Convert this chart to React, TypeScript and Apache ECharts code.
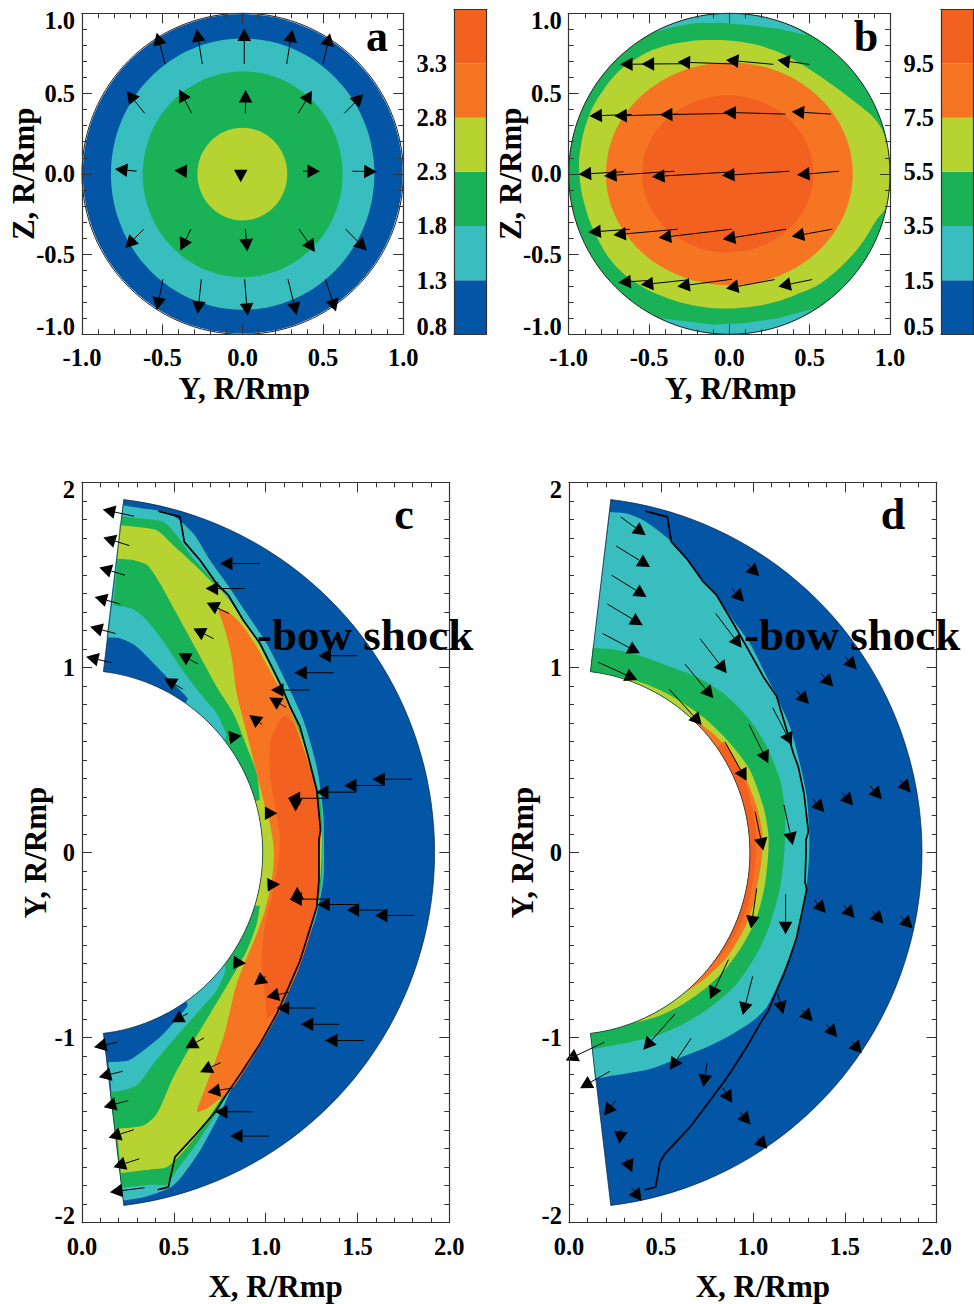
import React, { useEffect, useRef } from "react";
import * as echarts from "echarts";

const BLUE = "#0355A5", TEAL = "#38BEBE", GREEN = "#19B257", YELLOW = "#B7D332", ORANGE = "#F67522", RED = "#F36121";
const FONT = "Liberation Serif";

const colorbarColors = [BLUE, TEAL, GREEN, YELLOW, ORANGE, RED];
const colorbarStepsA = [1, 1, 1, 1, 1, 1];
const colorbarStepsB = [1, 1, 1, 1, 1, 1];
const colorbarLabelsA = ["0.8", "1.3", "1.8", "2.3", "2.8", "3.3", ""];
const colorbarLabelsB = ["0.5", "1.5", "3.5", "5.5", "7.5", "9.5", ""];

// [cx, cy, rx, ry] of the nearly elliptical contours
const contoursA = [
  { color: BLUE, e: [0, 0, 0.995, 0.995] },
  { color: TEAL, e: [0, -0.002, 0.82, 0.845] },
  { color: GREEN, e: [0, -0.003, 0.622, 0.641] },
  { color: YELLOW, e: [-0.002, -0.002, 0.28, 0.289] },
];
const unitCircle = [0, 0, 1, 1];

// tail x, tail y, tip x, tip y
const arrowsA = [
  [-0.483, 0.684, -0.535, 0.879], [-0.251, 0.684, -0.286, 0.901], [0.01, 0.684, 0.01, 0.906], [0.274, 0.684, 0.309, 0.899], [0.5, 0.684, 0.544, 0.875],
  [-0.61, 0.377, -0.722, 0.516], [-0.317, 0.377, -0.396, 0.526], [0.017, 0.377, 0.019, 0.522], [0.346, 0.377, 0.432, 0.518], [0.633, 0.377, 0.751, 0.497],
  [-0.66, 0.016, -0.795, 0.03], [-0.344, 0.016, -0.425, 0.02], [-0.012, 0.02, -0.012, -0.053], [0.376, 0.016, 0.481, 0.016], [0.683, 0.016, 0.834, 0.013],
  [-0.616, -0.345, -0.73, -0.462], [-0.322, -0.345, -0.388, -0.478], [0.017, -0.345, 0.029, -0.484], [0.351, -0.345, 0.45, -0.487], [0.641, -0.345, 0.772, -0.478],
  [-0.496, -0.657, -0.535, -0.848], [-0.257, -0.657, -0.28, -0.872], [0.012, -0.657, 0.031, -0.885], [0.282, -0.657, 0.336, -0.879], [0.515, -0.657, 0.581, -0.858],
];

const capTopB = [
  [-0.473, 0.881], [-0.33, 0.92], [-0.2, 0.94], [-0.04, 0.94], [0.13, 0.925], [0.3, 0.905], [0.481, 0.864],
  [0.4, 0.917], [0.3, 0.954], [0.2, 0.98], [0.1, 0.995], [0, 1], [-0.1, 0.995], [-0.2, 0.98], [-0.3, 0.954], [-0.4, 0.917],
];
const capBottomB = [
  [-0.432, -0.9], [-0.3, -0.915], [-0.1, -0.94], [0.1, -0.93], [0.3, -0.9], [0.53, -0.84],
  [0.4, -0.917], [0.3, -0.954], [0.2, -0.98], [0.1, -0.995], [0, -1], [-0.1, -0.995], [-0.2, -0.98], [-0.3, -0.954],
];
const yellowB = [
  [-0.934, 0.003], [-0.925, 0.169], [-0.867, 0.377], [-0.784, 0.522], [-0.68, 0.646], [-0.577, 0.719], [-0.452, 0.781],
  [-0.266, 0.823], [-0.079, 0.833], [0.108, 0.816], [0.274, 0.771], [0.44, 0.688], [0.585, 0.594], [0.793, 0.439],
  [0.927, 0.314], [0.983, 0.179], [0.995, 0.1], [1, 0], [0.995, -0.1], [0.983, -0.194],
  [0.917, -0.287], [0.793, -0.474], [0.585, -0.671], [0.44, -0.743], [0.274, -0.802], [0.108, -0.831], [-0.058, -0.839],
  [-0.245, -0.816], [-0.411, -0.765], [-0.577, -0.682], [-0.722, -0.557], [-0.826, -0.391], [-0.898, -0.204],
];
const orangeEllipseB = [0, 0, 0.768, 0.694];
const redEllipseB = [-0.01, -0.001, 0.533, 0.489];

const arrowsB = [
  [0.498, 0.682, 0.299, 0.709], [0.274, 0.682, -0.021, 0.709], [0.041, 0.684, -0.322, 0.696], [-0.245, 0.686, -0.546, 0.684], [-0.494, 0.684, -0.68, 0.682],
  [0.633, 0.372, 0.388, 0.387], [0.349, 0.372, -0.037, 0.383], [0.035, 0.377, -0.432, 0.368], [-0.317, 0.372, -0.716, 0.36], [-0.608, 0.37, -0.871, 0.36],
  [0.683, 0.016, 0.421, -0.007], [0.373, 0.016, -0.046, -0.011], [0.035, 0.013, -0.481, -0.018], [-0.342, 0.016, -0.78, -0.013], [-0.658, 0.013, -0.938, -0.003],
  [0.641, -0.345, 0.388, -0.391], [0.353, -0.345, -0.041, -0.408], [0.015, -0.345, -0.44, -0.399], [-0.322, -0.345, -0.722, -0.381], [-0.618, -0.345, -0.878, -0.364],
  [0.515, -0.659, 0.305, -0.702], [0.282, -0.659, -0.021, -0.715], [0.015, -0.657, -0.324, -0.702], [-0.259, -0.661, -0.552, -0.692], [-0.51, -0.665, -0.691, -0.677],
];

const shellOuter = 1.92;
const shellInner = 0.984;
const shellAngle = 83.2;

const tealOuterC = [
  [0.221, 1.876], [0.334, 1.858], [0.479, 1.831], [0.606, 1.723], [0.697, 1.579], [0.788, 1.453], [0.897, 1.291], [1.005, 1.13],
  [1.114, 0.914], [1.205, 0.716], [1.278, 0.464], [1.314, 0.212], [1.318, 0], [1.314, -0.153], [1.278, -0.333], [1.223, -0.495],
  [1.151, -0.674], [1.06, -0.854], [0.969, -1.016], [0.861, -1.178], [0.751, -1.412], [0.643, -1.61], [0.534, -1.763], [0.479, -1.811],
  [0.352, -1.858], [0.225, -1.88], [0.143, -1.133], [0.252, -1.124], [0.334, -1.07], [0.443, -0.98], [0.57, -0.836], [0.575, -0.818],
];
const tealPocketC = [[0.577, 0.833], [0.497, 0.914], [0.407, 1.004], [0.298, 1.112], [0.207, 1.157], [0.134, 1.162]];

const greenOuterC = [
  [0.218, 1.817], [0.316, 1.804], [0.443, 1.786], [0.515, 1.714], [0.606, 1.588], [0.715, 1.471], [0.806, 1.345], [0.933, 1.165],
  [1.042, 0.968], [1.151, 0.752], [1.241, 0.5], [1.296, 0.284], [1.31, 0.122], [1.31, 0], [1.305, -0.153], [1.278, -0.297],
  [1.232, -0.459], [1.151, -0.656], [1.06, -0.836], [0.969, -1.016], [0.869, -1.16], [0.751, -1.376], [0.624, -1.574], [0.515, -1.718],
  [0.461, -1.799], [0.37, -1.795], [0.216, -1.811], [0.152, -1.295], [0.234, -1.282], [0.307, -1.25], [0.388, -1.142], [0.479, -1.034],
  [0.606, -0.89], [0.733, -0.746], [0.782, -0.635],
];
const greenInnerC = [[0.788, 0.635], [0.733, 0.752], [0.643, 0.86], [0.534, 1.004], [0.425, 1.165], [0.334, 1.273], [0.27, 1.318], [0.171, 1.336]];

const yellowOuterC = [
  [0.203, 1.768], [0.298, 1.759], [0.407, 1.741], [0.497, 1.66], [0.606, 1.561], [0.715, 1.453], [0.788, 1.381], [0.878, 1.255],
  [0.969, 1.112], [1.06, 0.932], [1.151, 0.734], [1.223, 0.536], [1.278, 0.302], [1.305, 0.122], [1.305, 0], [1.296, -0.153],
  [1.269, -0.297], [1.223, -0.477], [1.142, -0.665], [1.051, -0.836], [0.96, -1.007], [0.869, -1.151], [0.751, -1.34], [0.624, -1.529],
  [0.515, -1.655], [0.461, -1.7], [0.37, -1.712], [0.212, -1.732], [0.189, -1.493], [0.334, -1.475], [0.407, -1.412], [0.497, -1.214],
  [0.588, -1.052], [0.697, -0.872], [0.806, -0.692], [0.897, -0.531], [0.951, -0.387], [0.969, -0.288],
];
const yellowInnerC = [
  [0.969, 0.284], [0.951, 0.428], [0.897, 0.572], [0.824, 0.752], [0.733, 0.896], [0.624, 1.094], [0.515, 1.291], [0.425, 1.453],
  [0.356, 1.552], [0.28, 1.579], [0.192, 1.585],
];

const orangeC = [
  [0.739, 1.318], [0.797, 1.3], [0.878, 1.219], [0.951, 1.112], [1.042, 0.95], [1.133, 0.77], [1.205, 0.572], [1.269, 0.356],
  [1.299, 0.14], [1.296, 0], [1.292, -0.153], [1.278, -0.297], [1.223, -0.495], [1.151, -0.692], [1.078, -0.854], [0.987, -1.016],
  [0.897, -1.16], [0.824, -1.268], [0.751, -1.331], [0.679, -1.385], [0.628, -1.403], [0.628, -1.385], [0.679, -1.25], [0.733, -1.106],
  [0.77, -1], [0.806, -0.854], [0.842, -0.71], [0.897, -0.567], [0.951, -0.441], [0.996, -0.315], [1.033, -0.153], [1.045, 0],
  [1.027, 0.14], [0.987, 0.284], [0.942, 0.464], [0.897, 0.644], [0.842, 0.86], [0.815, 1.058], [0.779, 1.201],
];
const redC = [
  [1.105, 0.743], [1.151, 0.698], [1.214, 0.536], [1.269, 0.356], [1.299, 0.14], [1.292, 0], [1.292, -0.135], [1.278, -0.288],
  [1.232, -0.477], [1.169, -0.656], [1.096, -0.8], [1.042, -0.872], [1.006, -0.899], [0.996, -0.764], [0.978, -0.603], [0.996, -0.387],
  [1.033, -0.243], [1.06, -0.099], [1.075, 0], [1.075, 0.104], [1.051, 0.248], [1.027, 0.392], [1.02, 0.536], [1.033, 0.626], [1.078, 0.716],
];
const shockC = [
  [0.416, 1.844], [0.534, 1.813], [0.557, 1.678], [0.643, 1.579], [0.733, 1.453], [0.797, 1.39], [0.878, 1.255], [0.969, 1.13],
  [1.042, 0.986], [1.087, 0.896], [1.133, 0.788], [1.187, 0.68], [1.232, 0.518], [1.278, 0.338], [1.299, 0.122], [1.29, 0.068],
  [1.29, 0], [1.29, -0.153], [1.278, -0.297], [1.232, -0.441], [1.187, -0.585], [1.133, -0.71], [1.06, -0.872], [0.969, -1.034],
  [0.869, -1.187], [0.788, -1.304], [0.724, -1.403], [0.606, -1.538], [0.506, -1.646], [0.47, -1.808], [0.412, -1.822],
];
const arrowsC = [
  [0.283, 1.817, 0.113, 1.853], [0.258, 1.658, 0.116, 1.702], [0.234, 1.498, 0.094, 1.54], [0.209, 1.342, 0.069, 1.381], [0.183, 1.183, 0.044, 1.219], [0.162, 1.025, 0.022, 1.058],
  [0.969, 1.561, 0.751, 1.561], [0.884, 1.426, 0.673, 1.426], [0.8, 1.291, 0.679, 1.349], [0.717, 1.155, 0.606, 1.21], [0.632, 1.018, 0.525, 1.076], [0.548, 0.883, 0.448, 0.941],
  [1.501, 1.063, 1.287, 1.063], [1.372, 0.971, 1.156, 0.971], [1.241, 0.878, 1.029, 0.878], [1.111, 0.784, 1.02, 0.838], [0.98, 0.692, 0.911, 0.743], [0.806, 0.622, 0.869, 0.631],
  [1.797, 0.396, 1.581, 0.396], [1.644, 0.362, 1.427, 0.362], [1.492, 0.326, 1.274, 0.326], [1.338, 0.293, 1.12, 0.293], [1.163, 0.293, 1.163, 0.221], [0.996, 0.212, 1.064, 0.212],
  [1.809, -0.34, 1.595, -0.34], [1.65, -0.311, 1.441, -0.311], [1.496, -0.281, 1.281, -0.281], [1.341, -0.252, 1.129, -0.252], [1.172, -0.252, 1.172, -0.185], [1.015, -0.174, 1.078, -0.171],
  [1.269, -0.84, 1.06, -0.84], [1.401, -0.928, 1.191, -0.928], [1.535, -1.016, 1.323, -1.016], [1.125, -0.755, 1.005, -0.782], [1.0, -0.669, 0.937, -0.716], [0.833, -0.595, 0.893, -0.599],
  [0.929, -1.401, 0.724, -1.401], [1.018, -1.532, 0.806, -1.532], [0.82, -1.272, 0.684, -1.295], [0.755, -1.135, 0.643, -1.187], [0.664, -1.002, 0.563, -1.058], [0.577, -0.869, 0.488, -0.917],
  [0.192, -1.025, 0.065, -1.052], [0.221, -1.182, 0.091, -1.214], [0.252, -1.34, 0.118, -1.376], [0.281, -1.498, 0.145, -1.541], [0.312, -1.655, 0.171, -1.7], [0.341, -1.811, 0.152, -1.835],
];

const tealD = [
  [0.223, 1.84], [0.314, 1.831], [0.404, 1.795], [0.495, 1.732], [0.558, 1.678], [0.622, 1.606], [0.713, 1.489], [0.803, 1.39],
  [0.894, 1.255], [0.984, 1.13], [1.057, 0.986], [1.13, 0.842], [1.202, 0.68], [1.256, 0.482], [1.293, 0.302], [1.307, 0.122],
  [1.307, 0], [1.296, -0.153], [1.275, -0.297], [1.238, -0.459], [1.184, -0.603], [1.13, -0.728], [1.075, -0.836], [1.003, -0.908],
  [0.876, -0.989], [0.749, -1.052], [0.586, -1.115], [0.441, -1.169], [0.241, -1.205], [0.141, -1.223],
];
const greenD = [
  [0.129, 1.106], [0.259, 1.094], [0.404, 1.058], [0.549, 1.004], [0.694, 0.95], [0.839, 0.86], [0.984, 0.716], [1.075, 0.572],
  [1.148, 0.392], [1.175, 0.212], [1.171, 0], [1.148, -0.189], [1.093, -0.387], [1.021, -0.549], [0.912, -0.71], [0.767, -0.836],
  [0.622, -0.926], [0.477, -0.989], [0.332, -1.025], [0.132, -1.061],
];
const yellowD = [
  [0.35, 0.932], [0.495, 0.878], [0.622, 0.806], [0.749, 0.716], [0.876, 0.59], [0.984, 0.446], [1.057, 0.248], [1.084, 0.104],
  [1.084, 0], [1.066, -0.171], [1.021, -0.351], [0.948, -0.495], [0.858, -0.621], [0.749, -0.728], [0.622, -0.818], [0.495, -0.881], [0.35, -0.923],
];
const orangeD = [
  [0.703, 0.705], [0.803, 0.626], [0.894, 0.518], [0.966, 0.392], [1.021, 0.248], [1.052, 0.104], [1.052, 0], [1.039, -0.099],
  [1.003, -0.279], [0.948, -0.423], [0.858, -0.567], [0.749, -0.674], [0.649, -0.746],
];
const redD = [
  [0.839, 0.599], [0.876, 0.554], [0.948, 0.41], [0.994, 0.248], [1.017, 0.104], [1.017, 0], [1.006, -0.117], [0.975, -0.279],
  [0.921, -0.414], [0.839, -0.54], [0.767, -0.621],
];
const shockD = [
  [0.415, 1.844], [0.535, 1.813], [0.557, 1.678], [0.64, 1.588], [0.731, 1.462], [0.803, 1.39], [0.894, 1.237], [0.966, 1.112],
  [1.057, 0.95], [1.13, 0.842], [1.184, 0.662], [1.22, 0.536], [1.247, 0.464], [1.278, 0.32], [1.302, 0.113], [1.289, 0.068],
  [1.289, 0], [1.284, -0.162], [1.293, -0.198], [1.265, -0.333], [1.238, -0.459], [1.202, -0.567], [1.166, -0.665], [1.13, -0.746],
  [1.084, -0.854], [1.039, -0.926], [0.966, -1.052], [0.885, -1.178], [0.848, -1.232], [0.767, -1.34], [0.658, -1.484], [0.522, -1.628],
  [0.495, -1.673], [0.471, -1.808], [0.41, -1.822],
];
const arrowsD = [
  [0.281, 1.813, 0.417, 1.714], [0.256, 1.656, 0.441, 1.543], [0.232, 1.498, 0.422, 1.381], [0.209, 1.342, 0.401, 1.228], [0.183, 1.183, 0.386, 1.076], [0.16, 1.027, 0.372, 0.932],
  [0.966, 1.561, 1.035, 1.493], [0.885, 1.426, 0.952, 1.354], [0.798, 1.291, 0.939, 1.106], [0.713, 1.155, 0.858, 0.968], [0.631, 1.018, 0.785, 0.833], [0.546, 0.881, 0.722, 0.689],
  [1.108, 0.782, 1.213, 0.581], [0.979, 0.692, 1.084, 0.482], [0.848, 0.599, 0.966, 0.387], [1.012, 0.221, 1.057, 0.011], [1.169, 0.257, 1.217, 0.041],
  [1.501, 1.058, 1.565, 0.989], [1.369, 0.968, 1.438, 0.896], [1.238, 0.874, 1.305, 0.802],
  [1.797, 0.396, 1.858, 0.324], [1.637, 0.36, 1.702, 0.288], [1.483, 0.326, 1.546, 0.254], [1.325, 0.29, 1.389, 0.218],
  [1.334, -0.257, 1.398, -0.327], [1.492, -0.284, 1.554, -0.354], [1.646, -0.315, 1.71, -0.383], [1.804, -0.345, 1.869, -0.41],
  [1.178, -0.225, 1.178, -0.441], [1.021, -0.194, 0.99, -0.41], [0.867, -0.579, 0.767, -0.791], [0.999, -0.669, 0.945, -0.878],
  [0.577, -0.872, 0.404, -1.065], [0.664, -1.004, 0.549, -1.174], [0.751, -1.137, 0.731, -1.268],
  [0.192, -1.025, -0.018, -1.124], [0.223, -1.182, 0.06, -1.273], [0.254, -1.34, 0.19, -1.421], [0.283, -1.498, 0.274, -1.574], [0.312, -1.655, 0.344, -1.727], [0.341, -1.811, 0.395, -1.883],
  [1.135, -0.764, 1.166, -0.872], [1.269, -0.851, 1.325, -0.912], [1.401, -0.93, 1.459, -0.998], [1.537, -1.02, 1.592, -1.085],
  [0.836, -1.272, 0.888, -1.353], [0.93, -1.403, 0.988, -1.469], [1.021, -1.538, 1.079, -1.601],
];

function arc(r: number, a0: number, a1: number) {
  const n = Math.max(2, Math.ceil(Math.abs(a1 - a0) / 2));
  const out: number[][] = [];
  for (let i = 0; i <= n; i++) {
    const t = ((a0 + ((a1 - a0) * i) / n) * Math.PI) / 180;
    out.push([r * Math.cos(t), r * Math.sin(t)]);
  }
  return out;
}

// Doubling a vertex where the outline turns sharply keeps that corner from being rounded by the smoothing.
function keepCorners(pts: number[][]) {
  const out: number[][] = [];
  const n = pts.length;
  pts.forEach((p, i) => {
    const a = pts[(i - 1 + n) % n], b = pts[(i + 1) % n];
    const t0 = Math.atan2(p[1] - a[1], p[0] - a[0]);
    const t1 = Math.atan2(b[1] - p[1], b[0] - p[0]);
    let d = Math.abs(t1 - t0);
    if (d > Math.PI) d = 2 * Math.PI - d;
    out.push(p);
    if (d > 0.7) out.push([p[0], p[1]]);
  });
  return out;
}

const TICK = "#333";

function makeOption() {
  const grid: any[] = [];
  const xAxis: any[] = [];
  const yAxis: any[] = [];
  const series: any[] = [];

  const baseAxis = (extra: any) => ({
    type: "value",
    z: 10,
    splitLine: { show: false },
    axisLine: { show: true, onZero: false, lineStyle: { color: TICK, width: 1.2 } },
    ...extra,
  });
  const labelStyle = { color: "#000", fontFamily: FONT, fontWeight: "bold", fontSize: 24.5, lineHeight: 15 };
  const nameStyle = { color: "#000", fontFamily: FONT, fontWeight: "bold", fontSize: 31 };

  function panel(rect: number[], xr: number[], yr: number[], xName: string, yName: string, yFmt: (v: number) => string, yNameGap: number, xNameShift: number) {
    const g = grid.length;
    grid.push({ left: rect[0], top: rect[1], width: rect[2], height: rect[3], outerBoundsMode: "none" });
    const ticks = (split: number) => ({
      axisTick: { show: true, inside: true, length: 10, lineStyle: { color: TICK, width: 1 } },
      minorTick: { show: true, splitNumber: split, length: 5, lineStyle: { color: TICK, width: 1 } },
    });
    const xi = xAxis.length;
    const xc = { gridIndex: g, min: xr[0], max: xr[1], interval: xr[2], ...ticks(xr[3]) };
    xAxis.push(baseAxis({
      ...xc, position: "bottom", name: xName, nameLocation: "middle", nameMoveOverlap: false, nameGap: rect[3] > 400 ? 48 : 39,
      nameTextStyle: { ...nameStyle, padding: [0, 0, 0, xNameShift * 2] },
      axisLabel: { ...labelStyle, margin: 16, formatter: (v: number) => v.toFixed(1) },
    }));
    xAxis.push(baseAxis({ ...xc, position: "top", axisLabel: { show: false } }));
    const yi = yAxis.length;
    const yc = { gridIndex: g, min: yr[0], max: yr[1], interval: yr[2], ...ticks(yr[3]) };
    yAxis.push(baseAxis({
      ...yc, position: "left", name: yName, nameLocation: "middle", nameMoveOverlap: false, nameGap: yNameGap, nameTextStyle: nameStyle,
      axisLabel: { ...labelStyle, margin: 7, formatter: yFmt, verticalAlignMaxLabel: "top", verticalAlignMinLabel: "bottom" },
    }));
    yAxis.push(baseAxis({ ...yc, position: "right", axisLabel: { show: false } }));
    return { xi, yi };
  }

  function colorbar(rect: number[], steps: number[], labels: string[]) {
    const g = grid.length;
    grid.push({ left: rect[0], top: rect[1], width: rect[2], height: rect[3], outerBoundsMode: "none" });
    const xi = xAxis.length;
    const cat = { type: "category", gridIndex: g, data: [""], axisTick: { show: false }, axisLabel: { show: false }, z: 10,
      axisLine: { show: true, onZero: false, lineStyle: { color: TICK, width: 1.2 } } };
    xAxis.push({ ...cat, position: "bottom" }, { ...cat, position: "top" });
    const yi = yAxis.length;
    const yc = { gridIndex: g, min: 0, max: labels.length - 1, interval: 1, axisTick: { show: false } };
    yAxis.push(baseAxis({ ...yc, position: "left", axisLabel: { ...labelStyle, margin: 7, formatter: (v: number) => labels[v] ?? "", verticalAlignMinLabel: "bottom" } }));
    yAxis.push(baseAxis({ ...yc, position: "right", axisLabel: { show: false } }));
    steps.forEach((s, i) => series.push({
      type: "bar", xAxisIndex: xi, yAxisIndex: yi, stack: "cb" + g, barWidth: "100%", data: [s],
      itemStyle: { color: colorbarColors[i] }, silent: true,
    }));
  }

  const polygon = (ax: any, pts: number[][], color: string, stroke?: string, smooth?: number) => series.push({
    type: "custom", xAxisIndex: ax.xi, yAxisIndex: ax.yi, data: [[0, 0]], silent: true, clip: false,
    renderItem: (_: any, api: any) => ({
      type: "polygon",
      shape: { points: (smooth ? keepCorners(pts) : pts).map((p) => api.coord(p)), smooth: smooth || 0 },
      style: stroke ? { fill: color, stroke, lineWidth: 0.7 } : { fill: color },
    }),
  });
  const ellipse = (ax: any, e: number[], color: string, stroke?: string) => series.push({
    type: "custom", xAxisIndex: ax.xi, yAxisIndex: ax.yi, data: [e], silent: true, clip: false,
    renderItem: (_: any, api: any) => {
      const c = api.coord([api.value(0), api.value(1)]);
      const s = api.size([api.value(2), api.value(3)]);
      return {
        type: "ellipse",
        shape: { cx: c[0], cy: c[1], rx: s[0], ry: s[1] },
        style: stroke ? { fill: "none", stroke, lineWidth: 1 } : { fill: color },
      };
    },
  });
  const arrows = (ax: any, rows: number[][]) => series.push({
    type: "custom", xAxisIndex: ax.xi, yAxisIndex: ax.yi, data: rows, silent: true, clip: false,
    encode: { x: [0, 2], y: [1, 3] },
    renderItem: (_: any, api: any) => {
      const a = api.coord([api.value(0), api.value(1)]);
      const b = api.coord([api.value(2), api.value(3)]);
      const L = Math.hypot(b[0] - a[0], b[1] - a[1]) || 1;
      const ux = (b[0] - a[0]) / L, uy = (b[1] - a[1]) / L;
      const hl = 12.5, hw = 6.8;
      const bx = b[0] - ux * hl, by = b[1] - uy * hl;
      return {
        type: "group",
        children: [
          { type: "line", shape: { x1: a[0], y1: a[1], x2: bx, y2: by }, style: { stroke: "#000", lineWidth: 1 } },
          { type: "polygon", shape: { points: [[b[0], b[1]], [bx - uy * hw, by + ux * hw], [bx + uy * hw, by - ux * hw]] }, style: { fill: "#000" } },
        ],
      };
    },
  });
  const shockLine = (ax: any, pts: number[][]) => series.push({
    type: "line", xAxisIndex: ax.xi, yAxisIndex: ax.yi, data: pts, showSymbol: false, silent: true, clip: false,
    lineStyle: { color: "#000", width: 1.7 },
  });

  const fmt1 = (v: number) => v.toFixed(1);
  const fmt0 = (v: number) => v.toFixed(0);
  const SM = 0.25;

  // Panel a
  const a = panel([82, 13.3, 321.3, 321], [-1, 1, 0.5, 5], [-1, 1, 0.5, 5], "Y, R/Rmp", "Z, R/Rmp", fmt1, 43, 1.5);
  contoursA.forEach((c) => ellipse(a, c.e, c.color));
  ellipse(a, unitCircle, "none", "#222");
  arrows(a, arrowsA);
  colorbar([454, 9.3, 32, 325], colorbarStepsA, colorbarLabelsA);

  // Panel b
  const b = panel([568.7, 13.3, 321.3, 321], [-1, 1, 0.5, 5], [-1, 1, 0.5, 5], "Y, R/Rmp", "Z, R/Rmp", fmt1, 43, 1.5);
  ellipse(b, unitCircle, GREEN);
  polygon(b, capTopB, TEAL);
  polygon(b, capBottomB, TEAL);
  polygon(b, yellowB, YELLOW, undefined, 0.4);
  ellipse(b, orangeEllipseB, ORANGE);
  ellipse(b, redEllipseB, RED);
  ellipse(b, unitCircle, "none", "#222");
  arrows(b, arrowsB);
  colorbar([941, 9.3, 32, 325], colorbarStepsB, colorbarLabelsB);

  // Panel c
  const c = panel([82, 482.3, 367.3, 740.4], [0, 2, 0.5, 5], [-2, 2, 1, 10], "X, R/Rmp", "Y, R/Rmp", fmt0, 31, 10);
  const wedge = [...arc(shellOuter, -shellAngle, shellAngle), ...arc(shellInner, shellAngle, -shellAngle)];
  polygon(c, wedge, BLUE);
  polygon(c, [...tealOuterC, ...arc(shellInner, -55, 55), ...tealPocketC], TEAL, undefined, SM);
  polygon(c, [...greenOuterC, ...arc(shellInner, -38, 38), ...greenInnerC], GREEN, undefined, SM);
  polygon(c, [...yellowOuterC, ...arc(shellInner, -17, 16.5), ...yellowInnerC], YELLOW, undefined, SM);
  polygon(c, orangeC, ORANGE, undefined, SM);
  polygon(c, redC, RED, undefined, SM);
  polygon(c, wedge, "none", "#123");
  shockLine(c, shockC);
  arrows(c, arrowsC);

  // Panel d
  const d = panel([569, 482.3, 367.7, 740.4], [0, 2, 0.5, 5], [-2, 2, 1, 10], "X, R/Rmp", "Y, R/Rmp", fmt0, 31, 10);
  polygon(d, wedge, BLUE);
  polygon(d, [...tealD, ...arc(shellInner, -shellAngle, shellAngle)], TEAL, undefined, SM);
  polygon(d, [...greenD, ...arc(shellInner, -shellAngle, shellAngle)], GREEN, undefined, SM);
  polygon(d, [...yellowD, ...arc(shellInner, -69, 82)], YELLOW, undefined, SM);
  polygon(d, [...orangeD, ...arc(shellInner, -49, 45)], ORANGE, undefined, SM);
  polygon(d, [...redD, ...arc(shellInner, -39, 35)], RED, undefined, SM);
  polygon(d, wedge, "none", "#123");
  shockLine(d, shockD);
  arrows(d, arrowsD);

  const letter = (t: string, x: number, y: number) => ({
    type: "text", x, y, z: 100,
    style: { text: t, fill: "#000", font: `bold 44px "${FONT}"`, textAlign: "center", textVerticalAlign: "middle" },
  });
  const bow = (x: number) => ({
    type: "text", x, y: 635, z: 100,
    style: { text: "-bow shock", fill: "#000", font: `bold 45px "${FONT}"`, textAlign: "left", textVerticalAlign: "middle" },
  });

  return {
    animation: false,
    backgroundColor: "#fff",
    grid, xAxis, yAxis, series,
    graphic: [letter("a", 377, 36), letter("b", 866, 36), letter("c", 404, 514), letter("d", 893, 514), bow(257), bow(744)],
  };
}

export default function App() {
  const ref = useRef<HTMLDivElement>(null);
  useEffect(() => {
    const chart = echarts.init(ref.current!, null, { renderer: "svg" });
    chart.setOption(makeOption());
    return () => chart.dispose();
  }, []);
  return <div ref={ref} style={{ position: "absolute", left: 0, top: 0, width: 974, height: 1304 }} />;
}
